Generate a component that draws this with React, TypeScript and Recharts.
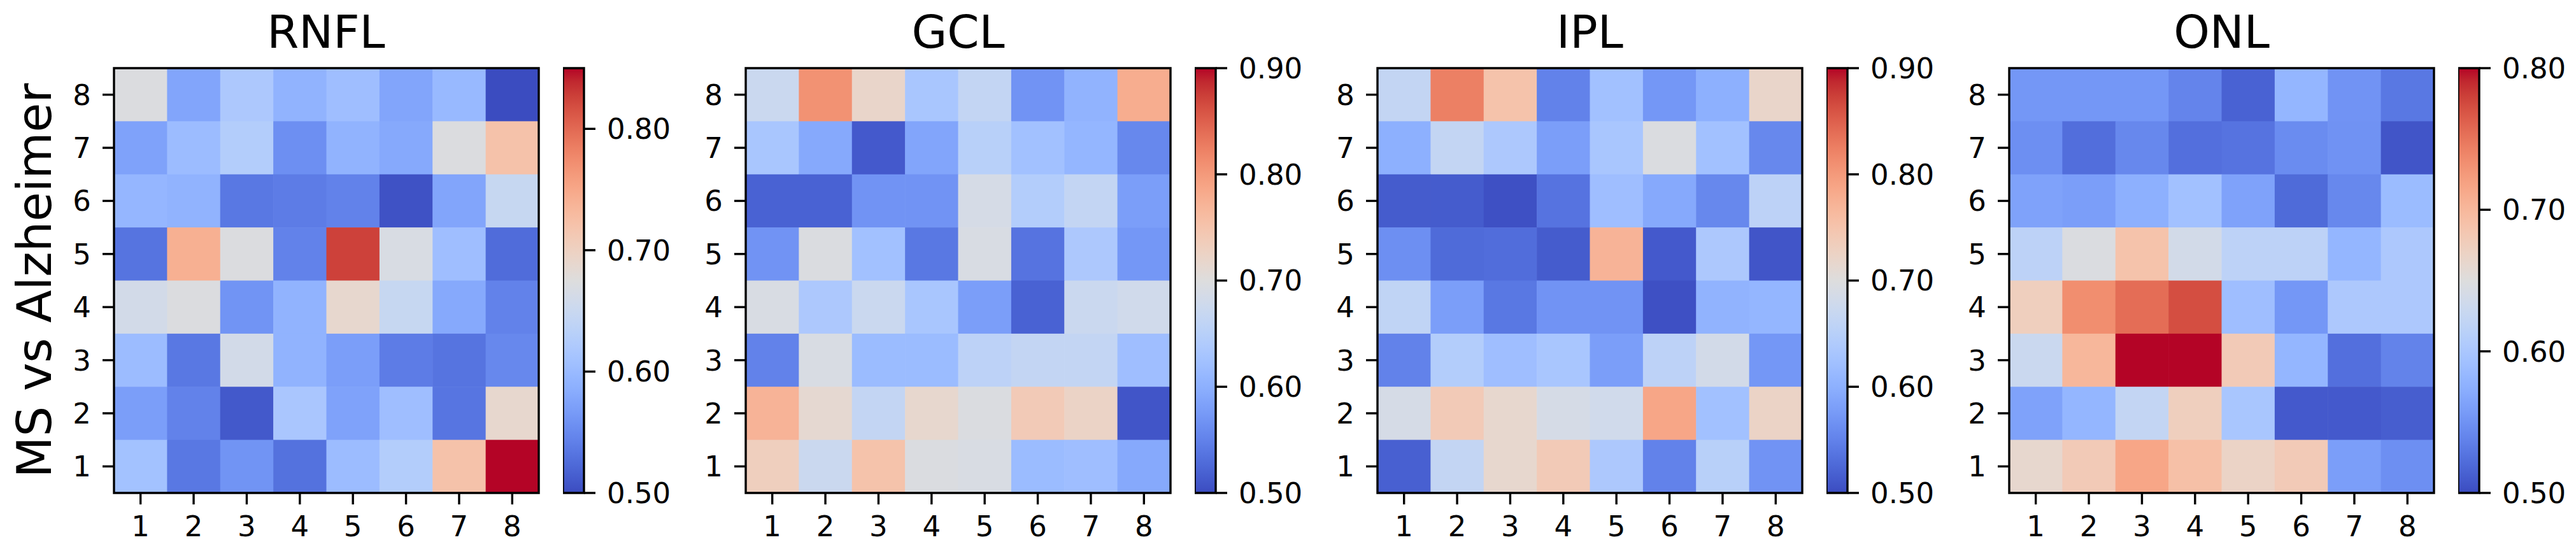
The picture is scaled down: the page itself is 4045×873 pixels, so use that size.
import React from 'react'
import { ScatterChart, Scatter, XAxis, YAxis, ReferenceArea, ComposedChart } from 'recharts'

const FONT = '"DejaVu Sans", Verdana, sans-serif'

// grid positions 1..8 on both axes
const gridTicks = [1, 2, 3, 4, 5, 6, 7, 8]
const titles = ['RNFL', 'GCL', 'IPL', 'ONL']
const yLabel = 'MS vs Alzheimer'

// colour bar limits and ticks per panel
const cbRanges = [[0.5, 0.85], [0.5, 0.9], [0.5, 0.9], [0.5, 0.8]]
const cbTicks = [
  [0.5, 0.6, 0.7, 0.8],
  [0.5, 0.6, 0.7, 0.8, 0.9],
  [0.5, 0.6, 0.7, 0.8, 0.9],
  [0.5, 0.6, 0.7, 0.8],
]

// rows listed from y=8 (top) down to y=1, columns x=1..8
const rnfl = [
  [0.672, 0.577, 0.619, 0.591, 0.605, 0.577, 0.598, 0.500],
  [0.574, 0.602, 0.626, 0.556, 0.591, 0.581, 0.672, 0.721],
  [0.595, 0.591, 0.535, 0.539, 0.544, 0.505, 0.577, 0.647],
  [0.532, 0.742, 0.672, 0.544, 0.826, 0.668, 0.605, 0.525],
  [0.661, 0.672, 0.560, 0.591, 0.689, 0.647, 0.581, 0.544],
  [0.602, 0.535, 0.661, 0.591, 0.570, 0.539, 0.532, 0.549],
  [0.570, 0.544, 0.510, 0.616, 0.574, 0.605, 0.533, 0.689],
  [0.609, 0.535, 0.560, 0.530, 0.602, 0.626, 0.721, 0.850],
]
const gcl = [
  [0.672, 0.808, 0.720, 0.632, 0.664, 0.568, 0.604, 0.780],
  [0.632, 0.592, 0.512, 0.588, 0.650, 0.624, 0.608, 0.556],
  [0.520, 0.520, 0.568, 0.568, 0.688, 0.644, 0.664, 0.580],
  [0.568, 0.696, 0.624, 0.540, 0.692, 0.536, 0.636, 0.572],
  [0.692, 0.636, 0.672, 0.632, 0.580, 0.520, 0.672, 0.680],
  [0.550, 0.692, 0.616, 0.616, 0.656, 0.664, 0.664, 0.620],
  [0.772, 0.712, 0.664, 0.716, 0.696, 0.740, 0.724, 0.508],
  [0.732, 0.672, 0.752, 0.696, 0.692, 0.616, 0.620, 0.592],
]
const ipl = [
  [0.664, 0.824, 0.752, 0.550, 0.624, 0.572, 0.600, 0.720],
  [0.600, 0.664, 0.636, 0.580, 0.632, 0.696, 0.624, 0.556],
  [0.514, 0.514, 0.504, 0.536, 0.620, 0.592, 0.556, 0.656],
  [0.564, 0.528, 0.530, 0.514, 0.772, 0.512, 0.636, 0.508],
  [0.660, 0.580, 0.540, 0.568, 0.568, 0.504, 0.604, 0.608],
  [0.550, 0.644, 0.620, 0.632, 0.580, 0.656, 0.684, 0.572],
  [0.688, 0.740, 0.716, 0.688, 0.680, 0.788, 0.624, 0.724],
  [0.518, 0.664, 0.716, 0.740, 0.636, 0.550, 0.650, 0.568],
]
const onl = [
  [0.554, 0.554, 0.554, 0.539, 0.515, 0.581, 0.551, 0.530],
  [0.548, 0.523, 0.542, 0.524, 0.527, 0.545, 0.550, 0.506],
  [0.563, 0.560, 0.575, 0.593, 0.563, 0.521, 0.542, 0.587],
  [0.617, 0.647, 0.689, 0.638, 0.617, 0.617, 0.581, 0.602],
  [0.674, 0.734, 0.755, 0.773, 0.590, 0.554, 0.602, 0.602],
  [0.629, 0.701, 0.800, 0.800, 0.680, 0.581, 0.524, 0.538],
  [0.563, 0.581, 0.623, 0.674, 0.599, 0.509, 0.509, 0.512],
  [0.662, 0.680, 0.716, 0.692, 0.668, 0.680, 0.560, 0.548],
]
const panels = [rnfl, gcl, ipl, onl]

// coolwarm (Moreland) 33-step table
const coolwarm = [
  [59, 76, 192], [68, 90, 204], [77, 104, 215], [87, 117, 225], [98, 130, 234],
  [108, 142, 241], [119, 154, 247], [130, 165, 251], [141, 176, 254], [152, 185, 255],
  [163, 194, 255], [174, 201, 253], [184, 208, 249], [194, 213, 244], [204, 217, 238],
  [213, 219, 230], [221, 221, 221], [229, 216, 209], [236, 211, 197], [241, 204, 185],
  [245, 196, 173], [247, 187, 160], [247, 177, 148], [247, 166, 135], [244, 154, 123],
  [241, 141, 111], [236, 127, 99], [229, 112, 88], [222, 96, 77], [213, 80, 66],
  [203, 62, 56], [192, 40, 47], [180, 4, 38],
]

function cw(t: number) {
  const c = Math.max(0, Math.min(1, t)) * 32
  const i = Math.min(31, Math.floor(c))
  const f = c - i
  const a = coolwarm[i], b = coolwarm[i + 1]
  const m = (k: number) => Math.round(a[k] + (b[k] - a[k]) * f)
  return `rgb(${m(0)},${m(1)},${m(2)})`
}

const PLOT = 667
const TOP = 107
const CELL = PLOT / 8
const plotLefts = [178.5, 1171, 2163, 3155]
const AXW = 130

const tickStyle = { fill: '#000', fontSize: 45, fontFamily: FONT }
const tickLine = { stroke: '#000', strokeWidth: 3.4 }

function Heat({ idx }: { idx: number }) {
  const [lo, hi] = cbRanges[idx]
  const pts = panels[idx].flatMap((row, r) => row.map((v, c) => ({ x: c + 1, y: 8 - r, v })))
  return (
    <div style={{ position: 'absolute', left: plotLefts[idx] - AXW, top: 0 }}>
      <ScatterChart width={AXW + PLOT + 10} height={873}
        margin={{ top: TOP, right: 10, bottom: 873 - TOP - PLOT - 80, left: 0 }}>
        <XAxis type='number' dataKey='x' domain={[0.5, 8.5]} ticks={gridTicks} interval={0}
          allowDataOverflow height={80} tickSize={18} tickMargin={18} axisLine={false}
          tickLine={tickLine} tick={tickStyle} />
        <YAxis type='number' dataKey='y' domain={[0.5, 8.5]} ticks={gridTicks} interval={0}
          allowDataOverflow width={AXW} tickSize={18} tickMargin={18} axisLine={false}
          tickLine={tickLine} tick={tickStyle} />
        <Scatter data={pts} isAnimationActive={false}
          shape={(p: any) => (
            <rect x={p.cx - CELL / 2} y={p.cy - CELL / 2} width={CELL + 0.6} height={CELL + 0.6}
              fill={cw((p.payload.v - lo) / (hi - lo))} />
          )} />
        <ReferenceArea x1={0.5} x2={8.5} y1={0.5} y2={8.5} fill='none' stroke='#000'
          strokeWidth={3.4} ifOverflow='visible' zIndex={2000} />
      </ScatterChart>
    </div>
  )
}

function ColorBar({ idx }: { idx: number }) {
  const [lo, hi] = cbRanges[idx]
  const id = `cb${idx}`
  return (
    <div style={{ position: 'absolute', left: plotLefts[idx] + 705, top: 0 }}>
      <ComposedChart width={33 + 170} height={873} data={[{ x: 0, y: lo }, { x: 1, y: hi }]}
        margin={{ top: TOP, right: 0, bottom: 873 - TOP - PLOT, left: 0 }}>
        <defs>
          <linearGradient id={id} x1='0' y1='1' x2='0' y2='0'>
            {coolwarm.map((c, k) => (
              <stop key={k} offset={k / 32} stopColor={`rgb(${c[0]},${c[1]},${c[2]})`} />
            ))}
          </linearGradient>
        </defs>
        <XAxis type='number' dataKey='x' domain={[0, 1]} hide />
        <YAxis type='number' dataKey='y' orientation='right' domain={[lo, hi]} ticks={cbTicks[idx]}
          interval={0} allowDataOverflow width={170} tickSize={18} tickMargin={18} axisLine={false}
          tickLine={tickLine} tick={tickStyle} tickFormatter={(v: number) => v.toFixed(2)} />
        <ReferenceArea x1={0} x2={1} y1={lo} y2={hi} fill={`url(#${id})`} fillOpacity={1}
          stroke='#000' strokeWidth={3.4} ifOverflow='visible' />
      </ComposedChart>
    </div>
  )
}

export default function App() {
  return (
    <div style={{ position: 'absolute', left: 0, top: 0, width: 4045, height: 873,
      background: '#fff', overflow: 'hidden' }}>
      {titles.map((_, i) => <Heat key={'h' + i} idx={i} />)}
      {titles.map((_, i) => <ColorBar key={'c' + i} idx={i} />)}
      <svg width={4045} height={873} style={{ position: 'absolute', left: 0, top: 0, pointerEvents: 'none' }}>
        {titles.map((t, i) => (
          <text key={t} x={plotLefts[i] + PLOT / 2} y={75} textAnchor='middle'
            fontSize={72} fontFamily={FONT} fill='#000'>{t}</text>
        ))}
        <text transform={`translate(80, ${TOP + PLOT / 2}) rotate(-90)`} textAnchor='middle'
          fontSize={75} fontFamily={FONT} fill='#000'>{yLabel}</text>
      </svg>
    </div>
  )
}
